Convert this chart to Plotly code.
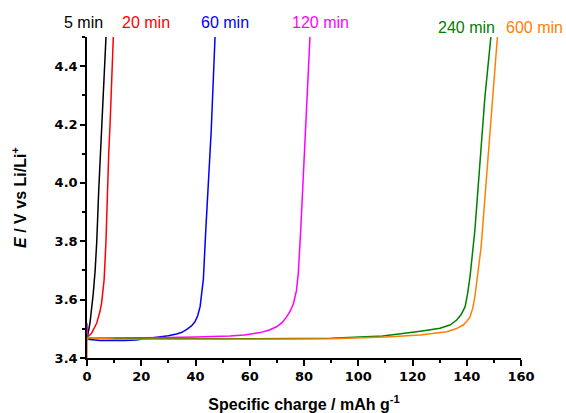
import plotly.graph_objects as go

# ---- data ----
labels = ["5 min", "20 min", "60 min", "120 min", "240 min", "600 min"]
colors = ["#000000", "#FF0000", "#0000FF", "#FF00FF", "#008000", "#FF8000"]

x_5 = [0, 0.2, 0.5, 1.1, 1.6, 2.3, 3.0, 3.6, 4.3, 5.0, 5.6, 6.3, 7.0]
y_5 = [3.46, 3.475, 3.49, 3.52, 3.56, 3.62, 3.70, 3.80, 3.97, 4.12, 4.24, 4.37, 4.50]

x_20 = [0, 0.5, 1.0, 1.7, 2.9, 3.6, 4.2, 4.8, 5.4, 6.3, 7.0, 7.4, 8.0, 8.5, 9.1, 9.7]
y_20 = [3.47, 3.475, 3.478, 3.485, 3.507, 3.52, 3.54, 3.56, 3.59, 3.667, 3.80, 3.95, 4.10, 4.20, 4.35, 4.50]

x_60 = [0, 1, 5, 10, 14, 18, 22, 26, 30, 33, 35, 36.8, 38.5, 39.8, 40.8, 41.7, 42.3, 42.9,
        43.8, 44.7, 45.8, 47.2]
y_60 = [3.468, 3.463, 3.460, 3.459, 3.460, 3.462, 3.466, 3.470, 3.476, 3.482, 3.488, 3.498,
        3.51, 3.524, 3.545, 3.576, 3.62, 3.67, 3.84, 4.01, 4.18, 4.50]

x_120 = [0, 0.3, 1, 10, 20, 30, 40, 44, 52.7, 58, 63.8, 67, 69.9, 72, 73.6, 75, 76.1, 77.2,
         77.9, 78.8, 79.7, 80.7, 82.2]
y_120 = [3.52, 3.47, 3.468, 3.468, 3.469, 3.470, 3.472, 3.473, 3.475, 3.479, 3.487, 3.495,
         3.507, 3.522, 3.541, 3.562, 3.587, 3.63, 3.69, 3.84, 4.01, 4.18, 4.50]

x_240 = [0, 0.3, 1, 10, 30, 60, 90, 109, 116, 121.5, 126, 130.1, 133.8, 136.3, 138, 139.4,
         140.3, 141.2, 143.0, 144.9, 146.7, 148.9]
y_240 = [3.48, 3.47, 3.468, 3.467, 3.466, 3.466, 3.468, 3.475, 3.482, 3.490, 3.496, 3.502,
         3.513, 3.530, 3.55, 3.576, 3.62, 3.678, 3.838, 4.067, 4.295, 4.50]

x_600 = [0, 0, 0.5, 2, 10, 30, 60, 90, 110, 122.8, 128, 132.6, 136, 138.7, 140.2, 141.2,
         142.2, 143.0, 145.3, 146.7, 148.6, 151.3]
y_600 = [3.40, 3.465, 3.47, 3.468, 3.465, 3.464, 3.464, 3.466, 3.472, 3.479, 3.484, 3.490,
         3.500, 3.513, 3.528, 3.541, 3.57, 3.61, 3.781, 3.952, 4.18, 4.50]

xs = [x_5, x_20, x_60, x_120, x_240, x_600]
ys = [y_5, y_20, y_60, y_120, y_240, y_600]

x_ticks = [0, 20, 40, 60, 80, 100, 120, 140, 160]
y_ticks = [3.4, 3.6, 3.8, 4.0, 4.2, 4.4]
y_ticklabels = ["3.4", "3.6", "3.8", "4.0", "4.2", "4.4"]

# label positions (pixel anchors in the 566x413 page)
label_px = [83, 146, 225, 320, 466, 534]
label_py = [22, 22, 22, 22, 27, 27]

# ---- figure ----
W, H = 566, 413
L, T = 87, 37
R = W - L - 434
B = H - T - 321
pw, ph = W - L - R, H - T - B

fig = go.Figure()
for x, y, c, n in zip(xs, ys, colors, labels):
    fig.add_trace(go.Scatter(x=x, y=y, mode="lines", name=n,
                             line=dict(color=c, width=1.5),
                             showlegend=False))

for n, c, px, py in zip(labels, colors, label_px, label_py):
    fig.add_annotation(text=n, x=(px - L) / pw, y=(H - B - py) / ph,
                       xref="paper", yref="paper", showarrow=False,
                       xanchor="center", yanchor="middle",
                       font=dict(family="Liberation Sans, Arial", size=16, color=c))

tickfont = dict(family="DejaVu Sans", size=13, color="#000000", weight="bold")
fig.update_layout(
    width=W, height=H,
    margin=dict(l=L, r=R, t=T, b=B),
    paper_bgcolor="white", plot_bgcolor="white",
    xaxis=dict(range=[0, 160], tickvals=x_ticks, showgrid=False, zeroline=False,
               automargin=False,
               showline=True, linecolor="black", linewidth=1.5,
               ticks="outside", ticklen=6, tickwidth=1.5, tickcolor="black",
               minor=dict(ticks="outside", ticklen=3, tickwidth=1.5, dtick=10,
                          tickcolor="black", showgrid=False),
               tickfont=tickfont,
               title=dict(text="Specific charge / mAh g<sup>-1</sup>", standoff=15,
                          font=dict(family="Liberation Sans, Arial", size=16,
                                    color="black", weight="bold"))),
    yaxis=dict(range=[3.4, 4.5], tickvals=y_ticks, ticktext=y_ticklabels,
               showgrid=False, zeroline=False, automargin=False,
               showline=True, linecolor="black", linewidth=1.5,
               ticks="outside", ticklen=5, tickwidth=1.5, tickcolor="black",
               minor=dict(ticks="outside", ticklen=3, tickwidth=1.5, dtick=0.1,
                          tickcolor="black", showgrid=False),
               tickfont=tickfont,
               title=dict(text="<i>E</i> / V vs Li/Li<sup>+</sup>", standoff=24,
                          font=dict(family="Liberation Sans, Arial", size=16,
                                    color="black", weight="bold"))),
)

fig.write_html("out.html",
               config={"displayModeBar": False},
               post_script="document.body.style.margin='0px';"
                           "document.body.style.overflow='hidden';")
